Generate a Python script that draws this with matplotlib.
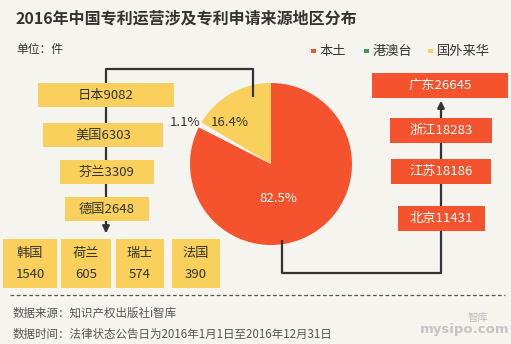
import matplotlib
matplotlib.use("Agg")
import matplotlib.pyplot as plt
from matplotlib.patches import Rectangle, FancyArrowPatch

plt.rcParams['font.family'] = ['Noto Sans CJK SC', 'DejaVu Sans']

# ---------------- data ----------------
title = "2016年中国专利运营涉及专利申请来源地区分布"
unit = "单位：件"
pie_labels = ["本土", "港澳台", "国外来华"]
pie_shares = [82.5, 1.1, 16.4]

foreign_top = ["日本", "美国", "芬兰", "德国"]
foreign_top_vals = [9082, 6303, 3309, 2648]
foreign_small = ["韩国", "荷兰", "瑞士", "法国"]
foreign_small_vals = [1540, 605, 574, 390]

domestic = ["广东", "浙江", "江苏", "北京"]
domestic_vals = [26645, 18283, 18186, 11431]

source_note = "数据来源：知识产权出版社i智库"
time_note = "数据时间：法律状态公告日为2016年1月1日至2016年12月31日"

# ---------------- style ----------------
BG = "#f6f4ef"
RED = "#f4532e"
YELLOW = "#f9d05c"
GREEN = "#3a9a5e"
DARK = "#333333"
W, H = 511, 344


def Y(y):
    # pixel row (from top) -> axis y
    return H - y


fig = plt.figure(figsize=(W / 100, H / 100), dpi=100, facecolor=BG)
ax = fig.add_axes([0, 0, 1, 1])
ax.set_facecolor(BG)

# ---------------- pie ----------------
cx, cy, r = 271, 164, 81
ax.pie(pie_shares, colors=[RED, BG, YELLOW], startangle=90, counterclock=False,
       radius=r, center=(cx, Y(cy)), explode=[0, 0.02, 0.1], frame=True,
       wedgeprops=dict(linewidth=0))
ax.text(278, Y(198), f"{pie_shares[0]}%", color="white", fontsize=9.5, ha="center", va="center")
ax.text(185, Y(122), f"{pie_shares[1]}%", color=DARK, fontsize=9.5, ha="center", va="center")
ax.text(230, Y(122), f"{pie_shares[2]}%", color=DARK, fontsize=9.5, ha="center", va="center")

# ---------------- legend ----------------
leg_x = [311, 364, 428]
for lx, lab, col in zip(leg_x, pie_labels, [RED, GREEN, YELLOW]):
    ax.add_patch(Rectangle((lx, Y(53)), 4.5, 4.5, color=col, lw=0))
    ax.text(lx + 9, Y(51), lab, fontsize=9.5, color=DARK, va="center", ha="left")

# ---------------- titles ----------------
ax.text(15, Y(18), title, fontsize=11.5, fontweight="bold", color=DARK, va="center", ha="left")
ax.text(16, Y(50), unit, fontsize=8.5, color=DARK, va="center", ha="left")

# ---------------- connectors ----------------
line_kw = dict(color=DARK, lw=1.6, zorder=1, solid_capstyle="butt")
ax.plot([106, 106, 253, 253], [Y(232), Y(69), Y(69), Y(97)], **line_kw)
ax.add_patch(FancyArrowPatch((106, Y(222)), (106, Y(236)), arrowstyle="-|>",
                             mutation_scale=10, color=DARK, lw=1.6, zorder=1))
ax.plot([282, 282, 441, 441], [Y(240), Y(273), Y(273), Y(108)], **line_kw)
ax.add_patch(FancyArrowPatch((441, Y(112)), (441, Y(98)), arrowstyle="-|>",
                             mutation_scale=10, color=DARK, lw=1.6, zorder=1))

# ---------------- left boxes ----------------
left_boxes = [(38, 83, 136), (43, 123, 120), (60, 160, 94), (65, 197, 84)]
for (bx, by, bw), name, val in zip(left_boxes, foreign_top, foreign_top_vals):
    ax.add_patch(Rectangle((bx, Y(by + 24)), bw, 24, color=YELLOW, lw=0, zorder=2))
    ax.text(bx + bw / 2, Y(by + 12), f"{name}{val}", fontsize=9.5, color=DARK,
            ha="center", va="center", zorder=3)

small_boxes = [(3, 54), (61, 50), (116, 48), (172, 48)]
for (bx, bw), name, val in zip(small_boxes, foreign_small, foreign_small_vals):
    ax.add_patch(Rectangle((bx, Y(288)), bw, 49, color=YELLOW, lw=0, zorder=2))
    ax.text(bx + bw / 2, Y(253), name, fontsize=9.5, color=DARK, ha="center", va="center", zorder=3)
    ax.text(bx + bw / 2, Y(275), str(val), fontsize=9.5, color=DARK, ha="center", va="center", zorder=3)

# ---------------- right boxes ----------------
right_boxes = [(372, 73, 136), (390, 118, 102), (391, 159, 100), (398, 206, 87)]
for (bx, by, bw), name, val in zip(right_boxes, domestic, domestic_vals):
    ax.add_patch(Rectangle((bx, Y(by + 25)), bw, 25, color=RED, lw=0, zorder=2))
    ax.text(bx + bw / 2, Y(by + 12.5), f"{name}{val}", fontsize=9.5, color="white",
            ha="center", va="center", zorder=3)

# ---------------- footer ----------------
ax.plot([10, 505], [Y(295), Y(295)], color="#555555", lw=0.9, ls=(0, (3, 2)))
ax.text(13, Y(313), source_note, fontsize=8.3, color="#555555", va="center", ha="left")
ax.text(13, Y(334), time_note, fontsize=8.3, color="#555555", va="center", ha="left")
ax.text(478, Y(318), "智库", fontsize=7.5, color="#bbbbbb", va="center", ha="center")
ax.text(465, Y(330), "mysipo.com", fontsize=9.5, fontweight="bold", color="#c4c4c4",
        va="center", ha="center", family=["DejaVu Sans"])

ax.set_xlim(0, W)
ax.set_ylim(0, H)
ax.set_aspect("auto")
ax.axis("off")

fig.savefig("out.png", dpi=100, facecolor=BG)
